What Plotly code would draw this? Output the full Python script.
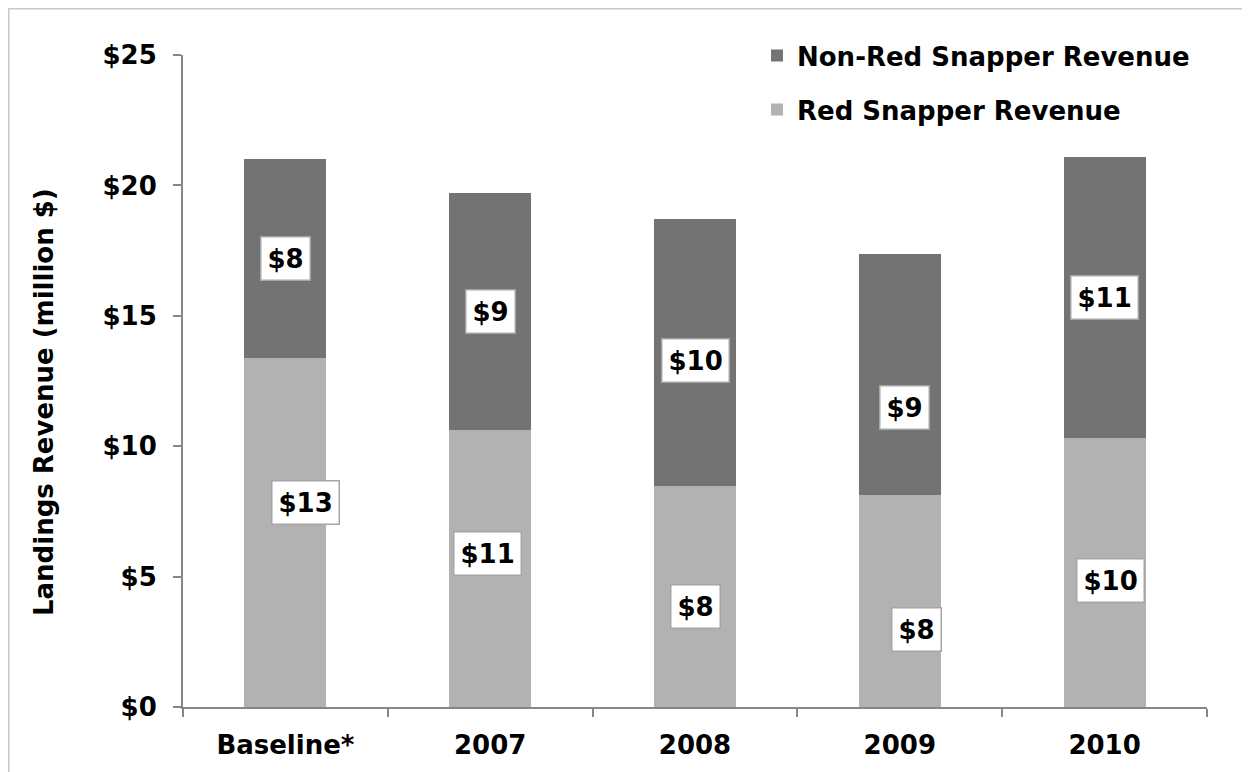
import plotly.graph_objects as go

categories = ["Baseline*", "2007", "2008", "2009", "2010"]
red_snapper = [13.38, 10.62, 8.47, 8.13, 10.31]
non_red_snapper = [7.63, 9.09, 10.24, 9.24, 10.78]
red_labels = ["$13", "$11", "$8", "$8", "$10"]
non_red_labels = ["$8", "$9", "$10", "$9", "$11"]

# label offsets (pixels) relative to segment centers
red_shift_x = [20, -3, 0, 17, 6]
red_shift_y = [30, 15, -10, -29, -8]
non_shift_x = [0, 0, 0, 5, 0]
non_shift_y = [0, 0, -8, -33, 0]

FONT = "DejaVu Sans, Verdana, sans-serif"
DARK = "#737373"
LIGHT = "#b2b2b2"
AXIS = "#868686"

W, H = 1250, 772
L, R, T, B = 175, 51, 47, 73
pw = W - L - R
ph = H - T - B


def px(xf):
    return (xf - L) / pw


def py(yf):
    return (H - B - yf) / ph


fig = go.Figure()
fig.add_trace(go.Bar(x=categories, y=red_snapper, name="Red Snapper Revenue",
                     legendgroup="red", legendrank=2,
                     marker=dict(color=LIGHT, line=dict(width=0)), width=0.4))
fig.add_trace(go.Bar(x=categories, y=non_red_snapper, name="Non-Red Snapper Revenue",
                     legendgroup="nonred", legendrank=1,
                     marker=dict(color=DARK, line=dict(width=0)), width=0.4))

lab_font = dict(family=FONT, size=26, color="black", weight="bold")
annotations = []
for i, c in enumerate(categories):
    annotations.append(dict(
        x=i, y=red_snapper[i] / 2, text=red_labels[i], showarrow=False,
        xshift=red_shift_x[i], yshift=red_shift_y[i], font=lab_font,
        bgcolor="white", bordercolor="#a6a6a6", borderwidth=1.5, borderpad=6))
    annotations.append(dict(
        x=i, y=red_snapper[i] + non_red_snapper[i] / 2, text=non_red_labels[i], showarrow=False,
        xshift=non_shift_x[i], yshift=non_shift_y[i], font=lab_font,
        bgcolor="white", bordercolor="#a6a6a6", borderwidth=1.5, borderpad=6))

annotations.append(dict(
    xref="paper", yref="paper", x=px(36), y=py(394), xanchor="center", yanchor="middle",
    text="Landings Revenue (million $)", textangle=-90, showarrow=False,
    font=dict(family=FONT, size=26, color="black", weight="bold")))

shapes = [
    dict(type="line", xref="paper", yref="paper",
         x0=px(0), x1=px(W + 10), y0=py(0.5), y1=py(0.5),
         line=dict(color="#c8c8c8", width=2)),
    dict(type="line", xref="paper", yref="paper",
         x0=px(0.5), x1=px(0.5), y0=py(0), y1=py(H + 10),
         line=dict(color="#c8c8c8", width=2)),
]

tick_font = dict(family=FONT, size=26, color="black", weight="bold")

fig.update_layout(
    width=W, height=H,
    margin=dict(l=L, r=R, t=T, b=B, pad=0),
    barmode="stack",
    plot_bgcolor="white", paper_bgcolor="white",
    showlegend=True,
    legend=dict(traceorder="grouped", x=px(749), xanchor="left",
                y=1.035, yanchor="top",
                font=dict(family=FONT, size=26, color="black", weight="bold"),
                itemwidth=30, tracegroupgap=17, bgcolor="rgba(0,0,0,0)"),
    annotations=annotations,
    shapes=shapes,
    xaxis=dict(type="category", range=[-0.5, len(categories) - 0.5],
               showline=True, linecolor=AXIS, linewidth=2, ticks="outside",
               tickson="boundaries", ticklen=8, tickcolor=AXIS, tickwidth=1.5,
               tickfont=tick_font, showgrid=False, ticklabelstandoff=14,
               tickangle=0, automargin=False),
    yaxis=dict(range=[0, 25], dtick=5, tickprefix="$", showline=True, linecolor=AXIS,
               linewidth=2, ticks="outside", ticklen=8, tickcolor=AXIS, tickwidth=1.5,
               tickfont=tick_font, showgrid=False, zeroline=False,
               ticklabelstandoff=11, automargin=False),
)

fig.write_html("out.html")
